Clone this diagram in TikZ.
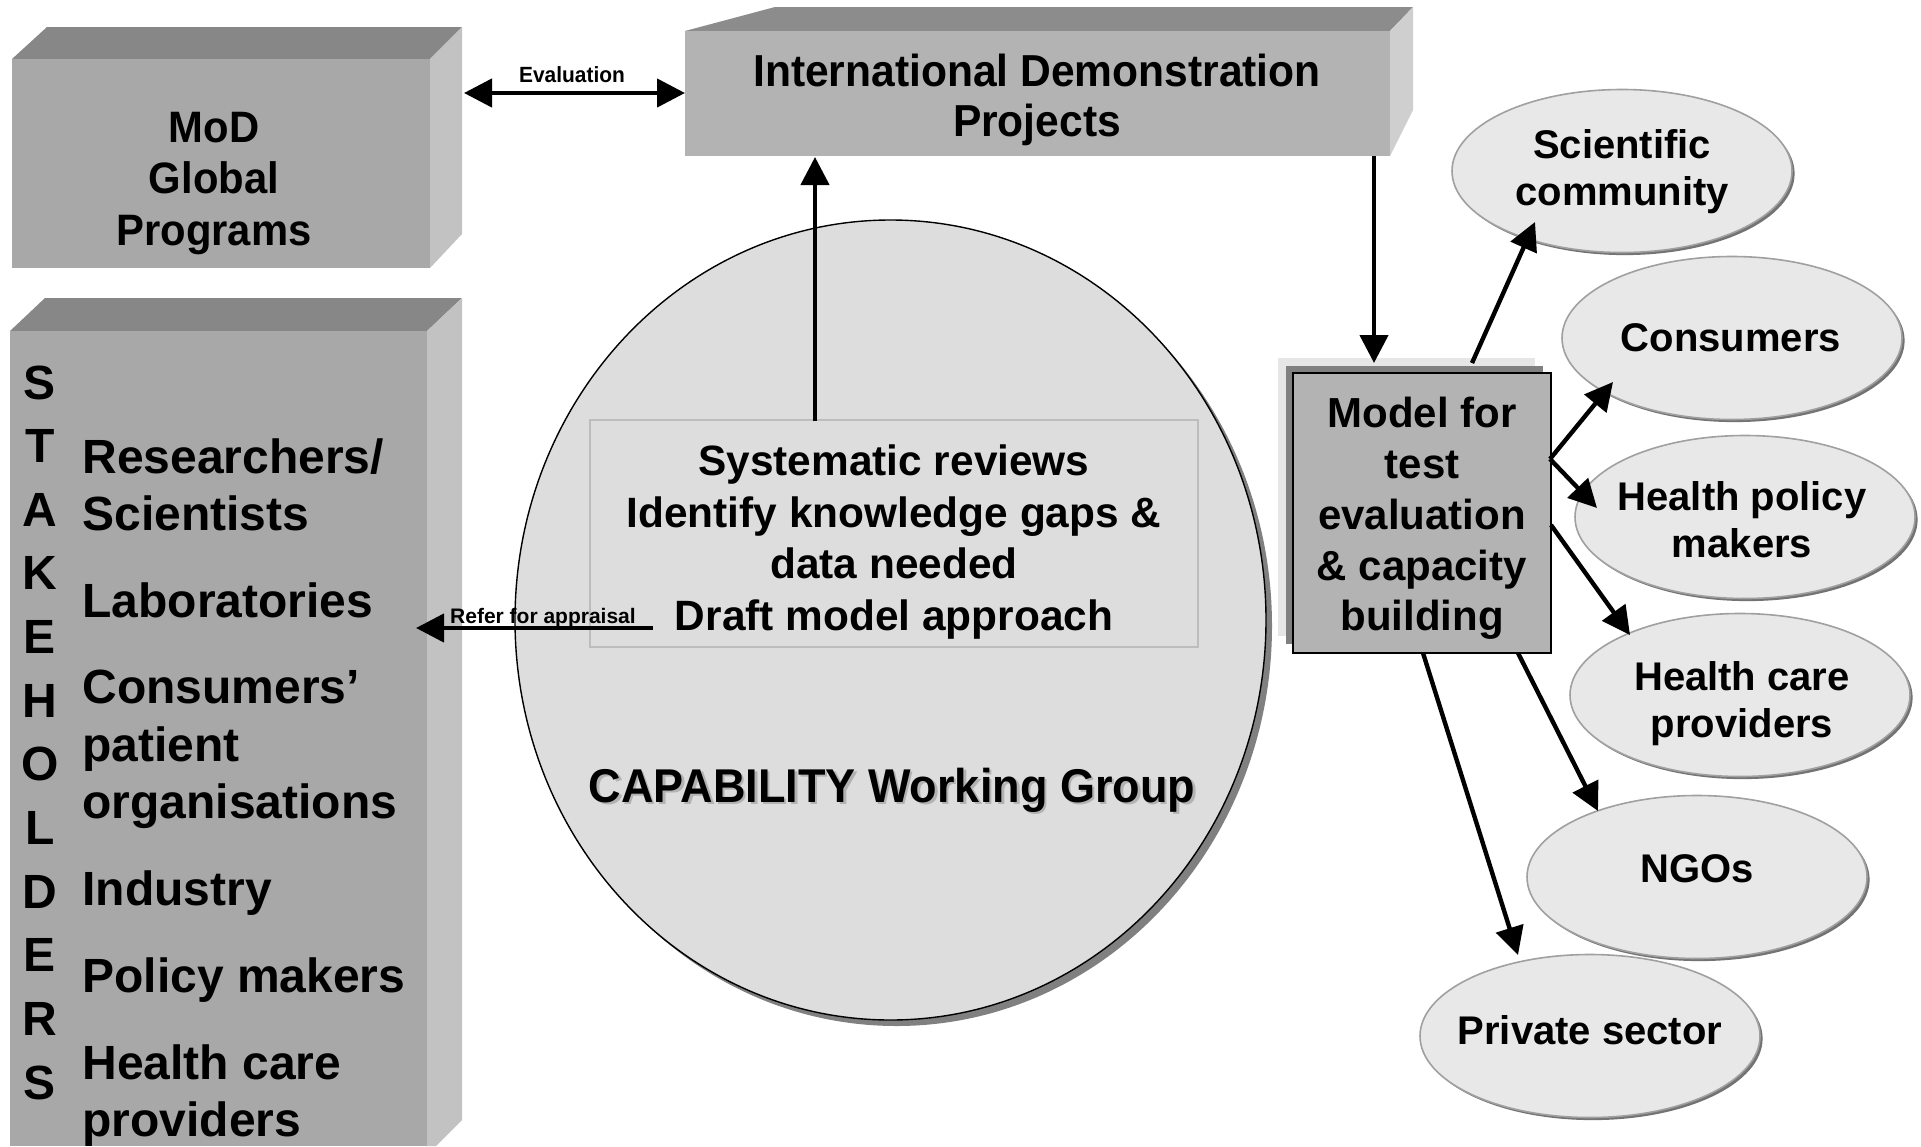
\documentclass[tikz,border=0pt]{standalone}
\usepackage{fontspec}
\setmainfont{Liberation Sans}
\newfontfamily\condf[FakeStretch=0.95]{Liberation Sans}
\usetikzlibrary{arrows.meta,shapes.geometric,shadows}
\definecolor{boxfront}{HTML}{A8A8A8}
\definecolor{boxtop}{HTML}{878787}
\definecolor{boxside}{HTML}{C2C2C2}
\definecolor{intfront}{HTML}{B3B3B3}
\definecolor{inttop}{HTML}{8C8C8C}
\definecolor{intside}{HTML}{CFCFCF}
\definecolor{circfill}{HTML}{DDDDDD}
\definecolor{sysedge}{HTML}{BDBDBD}
\definecolor{ovalfill}{HTML}{E8E8E8}
\definecolor{ovaledge}{HTML}{A0A0A0}
\definecolor{modfront}{HTML}{B3B3B3}
\definecolor{moddark}{HTML}{808080}
\definecolor{modlight}{HTML}{E6E6E6}
\tikzset{
  arr/.style={line width=2.2pt,-{Triangle[length=14pt,width=14pt]}},
  darr/.style={line width=2.2pt,{Triangle[length=14pt,width=14pt]}-{Triangle[length=14pt,width=14pt]}},
  tline/.style={inner sep=0pt,anchor=base},
  modt/.style={tline,font=\condf\bfseries\fontsize{22}{26}\selectfont},
  intt/.style={tline,font=\condf\bfseries\fontsize{22.4}{26}\selectfont},
  syst/.style={tline,font=\bfseries\fontsize{21.2}{25}\selectfont},
  mdlt/.style={tline,font=\bfseries\fontsize{21}{25}\selectfont},
  ovt/.style={tline,font=\bfseries\fontsize{20}{24}\selectfont},
  stk/.style={tline,font=\bfseries\fontsize{24}{28}\selectfont},
  item/.style={inner sep=0pt,anchor=base west,font=\bfseries\fontsize{24}{28}\selectfont},
  small/.style={tline,font=\bfseries\fontsize{10.5}{12}\selectfont},
  oval/.style={ellipse,minimum width=170pt,minimum height=81.5pt,inner sep=0pt,
    fill=ovalfill,draw=ovaledge,line width=0.8pt,
    drop shadow={shadow xshift=1.3pt,shadow yshift=-1.3pt,fill=black!55,opacity=1}},
}
\begin{document}
\begin{tikzpicture}[x=0.5pt,y=-0.5pt]
\useasboundingbox[fill=white] (0,0) rectangle (1921,1146);

% ---------- MoD box ----------
\fill[boxtop] (12,59) -- (47,27) -- (462,27) -- (430,59) -- cycle;
\fill[boxside] (430,59) -- (462,27) -- (462,234) -- (430,268) -- cycle;
\node[rectangle,fill=boxfront,minimum width=209pt,minimum height=104.5pt,inner sep=0pt] (mod) at (221,163.5) {};
\node[modt] (mod1) at (214,142) {MoD};
\node[modt] (mod2) at (214,193.5) {Global};
\node[modt] (mod3) at (214,245) {Programs};

% ---------- International box ----------
\fill[inttop] (685,31) -- (775,7) -- (1413,7) -- (1390,31) -- cycle;
\fill[intside] (1390,31) -- (1413,7) -- (1413,110) -- (1390,156) -- cycle;
\node[rectangle,fill=intfront,minimum width=352.5pt,minimum height=62.5pt,inner sep=0pt] (int) at (1037.5,93.5) {};
\node[intt] (int1) at (1037,86) {International Demonstration};
\node[intt] (int2) at (1037,136) {Projects};

% ---------- Evaluation arrow ----------
\coordinate (evL) at (464,93);
\coordinate (evR) at (685,93);
\draw[darr] (evL) -- (evR);
\node[tline,font=\condf\bfseries\fontsize{11}{13}\selectfont] (evtxt) at (572,82) {Evaluation};

% ---------- Stakeholders box ----------
\fill[boxtop] (10,331) -- (45,298) -- (462,298) -- (427,331) -- cycle;
\fill[boxside] (427,331) -- (462,298) -- (462,1120) -- (436,1146) -- (427,1146) -- cycle;
\node[rectangle,fill=boxfront,minimum width=208.5pt,minimum height=407.5pt,inner sep=0pt] (stake) at (218.5,738.5) {};
\foreach \L [count=\i from 0] in {S,T,A,K,E,H,O,L,D,E,R,S}
  \node[stk] (L\i) at (40,{399+63.64*\i}) {\L};
\node[item] (it1) at (82,473) {Researchers/};
\node[item] (it2) at (82,530) {Scientists};
\node[item] (it3) at (82,617) {Laboratories};
\node[item] (it4) at (82,703) {Consumers’};
\node[item] (it5) at (82,761) {patient};
\node[item] (it6) at (82,818) {organisations};
\node[item] (it7) at (82,905) {Industry};
\node[item] (it8) at (82,992) {Policy makers};
\node[item] (it9) at (82,1079) {Health care};
\node[item] (it10) at (82,1136) {providers};

% ---------- Circle ----------
\node[ellipse,minimum width=375.5pt,minimum height=400pt,inner sep=0pt,fill=circfill,draw=black,line width=0.7pt,
  drop shadow={shadow xshift=3pt,shadow yshift=-3pt,fill=black!50,opacity=1}] (circ) at (890.5,620) {};
\node[rectangle,minimum width=304pt,minimum height=113.5pt,inner sep=0pt,fill=circfill,draw=sysedge,line width=1pt] (sys) at (894,533.5) {};
\node[syst] (sys1) at (894,475) {Systematic reviews};
\node[syst] (sys2) at (894,527) {Identify knowledge gaps \&};
\node[syst] (sys3) at (894,578) {data needed};
\node[syst] (sys4) at (894,630) {Draft model approach};
\node[tline,font=\condf\bfseries\fontsize{23.7}{28}\selectfont,text=black!30] (capsh) at (894.5,804.5) {CAPABILITY Working Group};
\node[tline,font=\condf\bfseries\fontsize{23.7}{28}\selectfont] (cap) at (892,802) {CAPABILITY Working Group};

% ---------- Refer arrow ----------
\coordinate (refS) at (653,628);
\coordinate (refE) at (416,628);
\draw[arr] (refS) -- (refE);
\node[small] (reftxt) at (543,623) {Refer for appraisal};

% ---------- Up / down arrows ----------
\coordinate (upS) at (815,421);
\coordinate (upE) at (815,157);
\draw[arr] (upS) -- (upE);
\coordinate (dnS) at (1374,156);
\coordinate (dnE) at (1374,363);

% ---------- Model box ----------
\fill[modlight] (1278,358) rectangle (1535,636);
\fill[moddark] (1286,366) rectangle (1543,644);
\node[rectangle,minimum width=129pt,minimum height=140pt,inner sep=0pt,fill=modfront,draw=black,line width=0.8pt] (model) at (1422,513) {};
\node[mdlt] (m1) at (1422,427) {Model for};
\node[mdlt] (m2) at (1422,478) {test};
\node[mdlt] (m3) at (1422,529) {evaluation};
\node[mdlt] (m4) at (1422,580) {\& capacity};
\node[mdlt] (m5) at (1422,630) {building};
\draw[arr] (dnS) -- (dnE);

% ---------- Ovals ----------
\node[oval] (sci) at (1622,171) {};
\node[oval] (con) at (1732,338) {};
\node[oval] (hpm) at (1745,517) {};
\node[oval] (hcp) at (1740,695) {};
\node[oval] (ngo) at (1697,877) {};
\node[oval] (pri) at (1590,1036) {};
\node[ovt] (sci1) at (1622,158) {Scientific};
\node[ovt] (sci2) at (1622,205) {community};
\node[ovt] (con1) at (1731,351) {Consumers};
\node[ovt] (hpm1) at (1742,510) {Health policy};
\node[ovt] (hpm2) at (1742,557) {makers};
\node[ovt] (hcp1) at (1742,690) {Health care};
\node[ovt] (hcp2) at (1742,737) {providers};
\node[ovt] (ngo1) at (1697,882) {NGOs};
\node[ovt] (pri1) at (1590,1044) {Private sector};

% ---------- Arrows from model ----------
\coordinate (mA) at (1472,363);
\coordinate (tA) at (1535,222);
\coordinate (mB) at (1550,459);
\coordinate (tB) at (1613,382);
\coordinate (tC) at (1597,508);
\coordinate (mD) at (1551,525);
\coordinate (tD) at (1630,635);
\coordinate (mE) at (1518,653);
\coordinate (tE) at (1598,811);
\coordinate (mF) at (1423,653);
\coordinate (tF) at (1518,955);
\draw[arr] (mA) -- (tA);
\draw[arr] (mB) -- (tB);
\draw[arr] (mB) -- (tC);
\draw[arr] (mD) -- (tD);
\draw[arr] (mE) -- (tE);
\draw[arr] (mF) -- (tF);
\end{tikzpicture}
\end{document}
